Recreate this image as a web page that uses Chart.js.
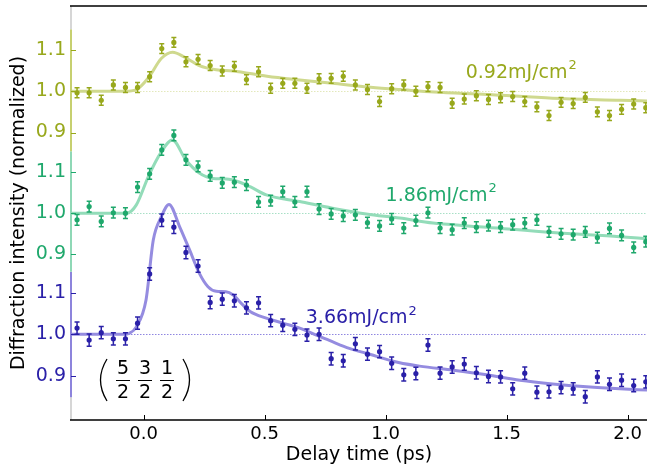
<!DOCTYPE html>
<html>
<head>
<meta charset="utf-8">
<script src="https://cdn.jsdelivr.net/npm/chart.js@4"></script>
<style>
  html, body { margin: 0; padding: 0; background: #fff; }
  #wrap { width: 647px; height: 467px; }
</style>
</head>
<body>
<div id="wrap"><canvas id="c" width="647" height="467"></canvas></div>
<script>
// delay times of the measured points (ps)
const times = [-0.275, -0.225, -0.175, -0.125, -0.075, -0.025, 0.025, 0.075, 0.125, 0.175,
  0.225, 0.275, 0.325, 0.375, 0.425, 0.475, 0.525, 0.575, 0.625, 0.675,
  0.725, 0.775, 0.825, 0.875, 0.925, 0.975, 1.025, 1.075, 1.125, 1.175,
  1.225, 1.275, 1.325, 1.375, 1.425, 1.475, 1.525, 1.575, 1.625, 1.675,
  1.725, 1.775, 1.825, 1.875, 1.925, 1.975, 2.025, 2.075];

// 0.92 mJ/cm2
const low = [0.996, 0.996, 0.978, 1.015, 1.009, 1.009, 1.035, 1.103, 1.118, 1.071,
  1.077, 1.062, 1.049, 1.060, 1.028, 1.047, 1.007, 1.019, 1.019, 1.007,
  1.030, 1.031, 1.036, 1.015, 1.004, 0.975, 1.006, 1.015, 1.000, 1.011,
  1.009, 0.971, 0.981, 0.989, 0.980, 0.984, 0.987, 0.975, 0.962, 0.941,
  0.973, 0.970, 0.985, 0.950, 0.941, 0.956, 0.969, 0.960];
// 1.86 mJ/cm2
const mid = [0.984, 1.016, 0.980, 1.001, 1.000, 1.063, 1.095, 1.153, 1.188, 1.129,
  1.113, 1.090, 1.073, 1.075, 1.068, 1.027, 1.030, 1.052, 1.027, 1.052,
  1.010, 0.998, 0.993, 0.996, 0.977, 0.969, 0.986, 0.964, 0.982, 1.001,
  0.964, 0.960, 0.976, 0.966, 0.970, 0.966, 0.972, 0.976, 0.984, 0.955,
  0.950, 0.948, 0.955, 0.941, 0.963, 0.946, 0.917, 0.931];
// 3.66 mJ/cm2
const high = [1.015, 0.986, 1.004, 0.989, 0.989, 1.027, 1.146, 1.276, 1.259, 1.198,
  1.165, 1.077, 1.085, 1.081, 1.064, 1.076, 1.033, 1.022, 1.012, 0.998,
  1.000, 0.941, 0.936, 0.977, 0.952, 0.958, 0.930, 0.902, 0.905, 0.974,
  0.906, 0.921, 0.928, 0.907, 0.898, 0.897, 0.868, 0.906, 0.860, 0.861,
  0.871, 0.868, 0.849, 0.897, 0.879, 0.889, 0.876, 0.885];

const errLow = 0.012, errMid = 0.013, errHigh = 0.015;

// fitted curves
const fitLowT = [-0.3, -0.08, -0.03, 0.022, 0.073, 0.12, 0.17, 0.23, 0.30, 0.37, 0.51, 0.645, 0.78, 0.92, 1.06, 1.2, 1.42, 1.69, 1.97, 2.08];
const fitLow  = [1.0, 1.0, 1.004, 1.034, 1.079, 1.094, 1.082, 1.062, 1.052, 1.049, 1.036, 1.027, 1.019, 1.010, 1.004, 0.998, 0.992, 0.983, 0.978, 0.976];
const fitMidT = [-0.3, -0.07, -0.03, 0.02, 0.07, 0.119, 0.174, 0.23, 0.287, 0.33, 0.37, 0.44, 0.507, 0.645, 0.78, 0.92, 1.058, 1.196, 1.417, 1.69, 1.968, 2.08];
const fitMid  = [1.0, 1.0, 1.02, 1.089, 1.145, 1.177, 1.129, 1.097, 1.084, 1.083, 1.080, 1.064, 1.044, 1.028, 1.012, 0.998, 0.988, 0.976, 0.966, 0.953, 0.943, 0.938];
const fitHighT = [-0.3, -0.08, -0.06, -0.03, 0.01, 0.04, 0.073, 0.105, 0.149, 0.19, 0.23, 0.266, 0.30, 0.34, 0.37, 0.41, 0.44, 0.507, 0.576, 0.645, 0.714, 0.78, 0.85, 0.92, 1.058, 1.14, 1.28, 1.417, 1.555, 1.69, 1.83, 1.968, 2.08];
const fitHigh  = [1.0, 1.0, 1.002, 1.018, 1.083, 1.228, 1.284, 1.314, 1.260, 1.204, 1.148, 1.115, 1.104, 1.103, 1.095, 1.071, 1.055, 1.039, 1.027, 1.015, 0.998, 0.982, 0.966, 0.954, 0.931, 0.923, 0.913, 0.902, 0.889, 0.880, 0.873, 0.868, 0.865];

// vertical shift of each panel (top, middle, bottom)
const offsets = [0.588, 0.293, 0];
const panelTicks = [0.9, 1.0, 1.1];
const fluences = ['0.92mJ/cm²', '1.86mJ/cm²', '3.66mJ/cm²'];
const xTicks = [0, 0.5, 1.0, 1.5, 2.0];

const dotColors = ['#98a81c', '#1fa86c', '#2a20a8'];
const fitColors = ['#cfd98e', '#93dcb9', '#958ce0'];
const spineColors = ['#c7d070', '#8fd8b6', '#8d84dc'];
const refColors = ['#e3e8bb', '#a8e0c6', '#8f86e0'];

const series = [
  { t: times, v: low, err: errLow, ft: fitLowT, fv: fitLow },
  { t: times, v: mid, err: errMid, ft: fitMidT, fv: fitMid },
  { t: times, v: high, err: errHigh, ft: fitHighT, fv: fitHigh }
];

const datasets = [];
series.forEach((s, k) => {
  datasets.push({
    type: 'scatter',
    label: 'fit' + k,
    data: s.ft.map((t, i) => ({ x: t, y: s.fv[i] + offsets[k] })),
    showLine: true,
    borderColor: fitColors[k],
    borderWidth: 3,
    pointRadius: 0,
    cubicInterpolationMode: 'monotone',
    order: 2
  });
  datasets.push({
    type: 'scatter',
    label: fluences[k],
    data: s.t.map((t, i) => ({ x: t, y: s.v[i] + offsets[k] })),
    backgroundColor: dotColors[k],
    borderColor: dotColors[k],
    pointRadius: 2.6,
    borderWidth: 0,
    err: s.err,
    order: 1
  });
});

const yTickVals = [];
const yTickColors = [];
const yTickText = [];
[2, 1, 0].forEach(k => {
  panelTicks.forEach(v => {
    yTickVals.push(v + offsets[k]);
    yTickColors.push(dotColors[k]);
    yTickText.push(v.toFixed(1));
  });
});

const FONT = 'DejaVu Sans';

const overlay = {
  id: 'overlay',
  beforeDatasetsDraw(chart) {
    const { ctx, chartArea: a, scales: { y } } = chart;
    ctx.save();
    ctx.lineWidth = 1;
    ctx.setLineDash([1.5, 1.5]);
    offsets.forEach((off, k) => {
      const py = Math.round(y.getPixelForValue(1 + off)) + 0.5;
      ctx.strokeStyle = refColors[k];
      ctx.beginPath();
      ctx.moveTo(a.left, py);
      ctx.lineTo(a.right, py);
      ctx.stroke();
    });
    ctx.restore();
  },
  afterDatasetsDraw(chart) {
    const { ctx, scales: { y } } = chart;
    ctx.save();
    chart.data.datasets.forEach((ds, di) => {
      if (ds.err === undefined) return;
      const meta = chart.getDatasetMeta(di);
      ctx.strokeStyle = ds.borderColor;
      ctx.lineWidth = 1.5;
      meta.data.forEach((el, i) => {
        const v = ds.data[i].y;
        const top = y.getPixelForValue(v + ds.err);
        const bot = y.getPixelForValue(v - ds.err);
        ctx.beginPath();
        ctx.moveTo(el.x, top); ctx.lineTo(el.x, bot);
        ctx.moveTo(el.x - 2.5, top); ctx.lineTo(el.x + 2.5, top);
        ctx.moveTo(el.x - 2.5, bot); ctx.lineTo(el.x + 2.5, bot);
        ctx.stroke();
      });
    });
    ctx.restore();
  },
  afterDraw(chart) {
    const { ctx, chartArea: a, scales: { x, y } } = chart;
    ctx.save();
    // left spine, coloured per panel
    const bounds = [0.848, 1.151, 1.443, 1.738];
    const segs = [
      [y.min, bounds[0], '#d6d6d6'],
      [bounds[0], bounds[1], spineColors[2]],
      [bounds[1], bounds[2], spineColors[1]],
      [bounds[2], bounds[3], spineColors[0]],
      [bounds[3], y.max, '#d6d6d6']
    ];
    ctx.lineWidth = 2;
    segs.forEach(([lo, hi, col]) => {
      ctx.strokeStyle = col;
      ctx.beginPath();
      ctx.moveTo(a.left, y.getPixelForValue(lo));
      ctx.lineTo(a.left, y.getPixelForValue(hi));
      ctx.stroke();
    });
    // y ticks pointing inward
    ctx.lineWidth = 1;
    yTickVals.forEach((v, i) => {
      const py = Math.round(y.getPixelForValue(v)) + 0.5;
      ctx.strokeStyle = yTickColors[i];
      ctx.beginPath();
      ctx.moveTo(a.left, py); ctx.lineTo(a.left + 5, py);
      ctx.stroke();
    });
    // top and bottom frame
    ctx.strokeStyle = '#000';
    ctx.lineWidth = 1.5;
    ctx.beginPath();
    ctx.moveTo(a.left - 1, a.top); ctx.lineTo(a.right, a.top);
    ctx.moveTo(a.left - 1, a.bottom); ctx.lineTo(a.right, a.bottom);
    ctx.stroke();
    ctx.lineWidth = 1;
    xTicks.forEach(v => {
      const px = Math.round(x.getPixelForValue(v)) + 0.5;
      ctx.beginPath();
      ctx.moveTo(px, a.bottom); ctx.lineTo(px, a.bottom - 5);
      ctx.stroke();
    });
    // x axis title
    ctx.fillStyle = '#000';
    ctx.font = '19px "' + FONT + '"';
    ctx.textAlign = 'center';
    ctx.textBaseline = 'middle';
    ctx.fillText('Delay time (ps)', (a.left + a.right) / 2, 455);
    // fluence labels
    const labelPos = [[1.331, 1.044], [1.0, 1.042], [0.67, 1.039]];
    ctx.textAlign = 'left';
    labelPos.forEach(([lx, ly], k) => {
      const px = x.getPixelForValue(lx);
      const py = y.getPixelForValue(ly + offsets[k]);
      ctx.fillStyle = dotColors[k];
      const main = fluences[k].slice(0, -1);
      ctx.font = '19px "' + FONT + '"';
      ctx.fillText(main, px, py);
      const w = ctx.measureText(main).width;
      ctx.font = '13px "' + FONT + '"';
      ctx.fillText('2', px + w + 1, py - 7);
    });
    // Miller indices (5/2 3/2 1/2)
    ctx.fillStyle = '#000';
    ctx.strokeStyle = '#000';
    ctx.font = '19px "' + FONT + '"';
    ctx.textAlign = 'center';
    const nums = ['5', '3', '1'];
    const cx = [123, 145, 167];
    nums.forEach((n, i) => {
      ctx.fillText(n, cx[i], 369);
      ctx.fillText('2', cx[i], 393);
      ctx.lineWidth = 1;
      ctx.beginPath();
      ctx.moveTo(cx[i] - 7, 380.5); ctx.lineTo(cx[i] + 7, 380.5);
      ctx.stroke();
    });
    ctx.lineWidth = 1.3;
    ctx.beginPath();
    ctx.moveTo(107, 359);
    ctx.quadraticCurveTo(94, 380, 107, 401);
    ctx.moveTo(183, 359);
    ctx.quadraticCurveTo(196, 380, 183, 401);
    ctx.stroke();
    ctx.restore();
  }
};

new Chart(document.getElementById('c').getContext('2d'), {
  data: { datasets: datasets },
  options: {
    responsive: false,
    animation: false,
    layout: { autoPadding: false, padding: { top: 6, right: 0, left: 0, bottom: 0 } },
    plugins: { legend: { display: false }, tooltip: { enabled: false } },
    scales: {
      x: {
        type: 'linear',
        min: -0.3,
        max: 2.08,
        afterBuildTicks: s => { s.ticks = xTicks.map(v => ({ value: v })); },
        afterFit: s => { s.height = 47; s.paddingLeft = 0; s.paddingRight = 0; },
        border: { display: false },
        grid: { display: false, drawTicks: false },
        ticks: {
          color: '#000',
          padding: 4,
          maxRotation: 0,
          autoSkip: false,
          font: { family: FONT, size: 18 },
          callback: v => Number(v).toFixed(1)
        }
      },
      y: {
        type: 'linear',
        min: 0.7927,
        max: 1.794,
        afterBuildTicks: s => { s.ticks = yTickVals.map(v => ({ value: v })); },
        afterFit: s => { s.width = 71; s.paddingTop = 0; s.paddingBottom = 0; },
        border: { display: false },
        grid: { display: false, drawTicks: false },
        ticks: {
          padding: 5,
          autoSkip: false,
          font: { family: FONT, size: 19 },
          color: c => yTickColors[c.index],
          callback: (v, i) => yTickText[i]
        },
        title: {
          display: true,
          text: 'Diffraction intensity (normalized)',
          color: '#000',
          font: { family: FONT, size: 19 },
          padding: { top: 8, bottom: 0 }
        }
      }
    }
  },
  plugins: [overlay]
});
</script>
</body>
</html>
